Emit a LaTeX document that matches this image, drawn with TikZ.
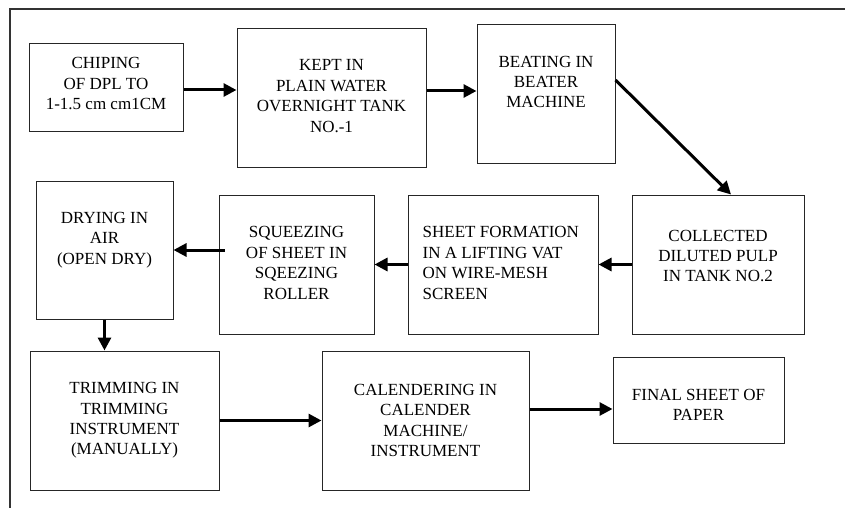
\documentclass[tikz,border=0pt]{standalone}
\usepackage{fontspec}
\setmainfont{Liberation Serif}
\usetikzlibrary{arrows.meta, calc, positioning}

\tikzset{
    stage/.style={draw=black!85, line width=1pt, inner sep=0pt},
    stagetext/.style={inner sep=0pt, align=center, font=\fontsize{17}{20.4}\selectfont},
    flow/.style={line width=3pt, -{Triangle[length=13pt, width=13pt]}},
}

\begin{document}
\begin{tikzpicture}[x=1pt, y=-1pt]
        \useasboundingbox (0,0) rectangle (845,508);
        \draw[line width=1.2pt, black!80] (10,508) -- (10,9) -- (845,9);

        % first row
        \node[stage, minimum width=154pt, minimum height=87pt] (chip) at (106,87.5) {};
        \node[stage, minimum width=189pt, minimum height=138pt] (kept) at (331.5,98) {};
        \node[stage, minimum width=138pt, minimum height=138pt] (beat) at (546,94) {};
        \node[stagetext] (chiptxt) at ($(chip.center)+(0,-4)$) {CHIPING\\OF DPL TO\\1-1.5 cm cm1CM};
        \node[stagetext] (kepttxt) at ($(kept.center)+(0,-2)$) {KEPT IN\\PLAIN WATER\\OVERNIGHT TANK\\NO.-1};
        \node[stagetext] (beattxt) at ($(beat.center)+(0,-12)$) {BEATING IN\\BEATER\\MACHINE};

        % second row
        \node[stage, minimum width=172pt, minimum height=139pt] (pulp) at (718,264.5) {};
        \node[stage, minimum width=190pt, minimum height=139pt] (sheet) at (503,264.5) {};
        \node[stage, minimum width=155pt, minimum height=139pt] (squeeze) at (296.5,264.5) {};
        \node[stage, minimum width=137pt, minimum height=138pt] (dry) at (104.5,250) {};
        \node[stagetext] (pulptxt) at ($(pulp.center)+(0,-8.5)$) {COLLECTED\\DILUTED PULP\\IN TANK NO.2};
        \node[stagetext, align=left, anchor=west] (sheettxt) at ($(sheet.west)+(15,-1.5)$) {SHEET FORMATION\\IN A LIFTING VAT\\ON WIRE-MESH\\SCREEN};
        \node[stagetext] (squeezetxt) at ($(squeeze.center)+(0,-1.5)$) {SQUEEZING\\OF SHEET IN\\SQEEZING\\ROLLER};
        \node[stagetext] (drytxt) at ($(dry.center)+(0,-10)$) {DRYING IN\\AIR\\(OPEN DRY)};

        % third row
        \node[stage, minimum width=189pt, minimum height=139pt] (trim) at (124.5,420.5) {};
        \node[stage, minimum width=207pt, minimum height=139pt] (cal) at (425.5,420.5) {};
        \node[stage, minimum width=171pt, minimum height=86pt] (final) at (698.5,400) {};
        \node[stagetext] (trimtxt) at (trim.center) {TRIMMING IN\\TRIMMING\\INSTRUMENT\\(MANUALLY)};
        \node[stagetext] (caltxt) at (cal.center) {CALENDERING IN\\CALENDER\\MACHINE/\\INSTRUMENT};
        \node[stagetext] (finaltxt) at ($(final.center)+(0,5)$) {FINAL SHEET OF\\PAPER};

        \draw[flow] ($(chip.east)+(0,2.5)$) -- ($(chip.east -| kept.west)+(0,2.5)$);
        \draw[flow] ($(kept.east)+(0,-7)$) -- ($(kept.east -| beat.west)+(0,-7)$);
        \draw[flow] ($(beat.east)+(0,-14)$) -- ($(pulp.north)+(13,0)$);
        \draw[flow] (pulp.west) -- (sheet.east);
        \draw[flow] (sheet.west) -- (squeeze.east);
        \draw[flow] ($(squeeze.west |- dry.east)+(6,0)$) -- (dry.east);
        \draw[flow] (dry.south) -- (dry.south |- trim.north);
        \draw[flow] (trim.east) -- (cal.west);
        \draw[flow] ($(cal.east)+(0,-11.5)$) -- ($(cal.east -| final.west)+(0,-11.5)$);
    \end{tikzpicture}
\end{document}
